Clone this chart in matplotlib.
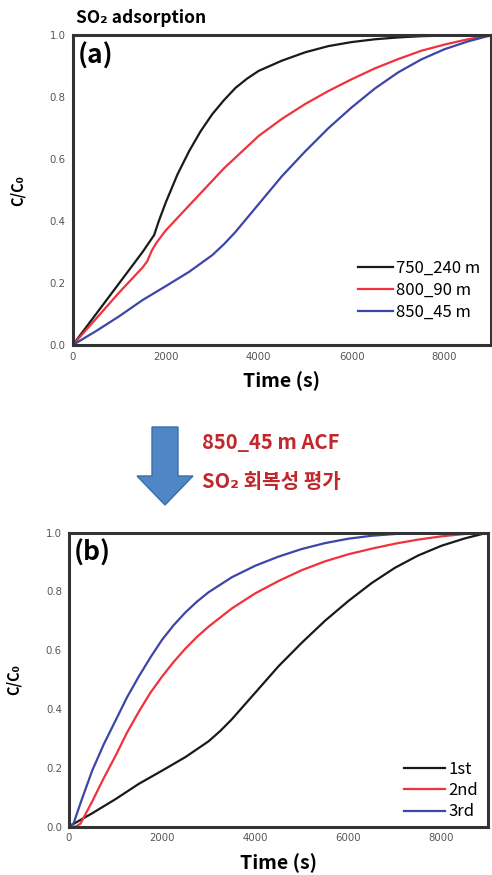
import matplotlib
matplotlib.use("Agg")
import matplotlib.pyplot as plt
from matplotlib.patches import Polygon

# panel (a): SO2 adsorption of three ACFs
time_a = [0, 500, 1000, 1500, 1750, 1850, 2000, 2250, 2500, 2750, 3000, 3250, 3500, 3750,
          4000, 4500, 5000, 5500, 6000, 6500, 7000, 7500, 8000, 9000]
acf_750 = [0, 0.10, 0.20, 0.30, 0.355, 0.40, 0.46, 0.55, 0.625, 0.69, 0.745, 0.79, 0.83,
           0.86, 0.885, 0.918, 0.945, 0.965, 0.978, 0.987, 0.993, 0.997, 0.999, 1.0]

time_red = [0, 500, 1000, 1500, 1600, 1700, 1800, 2000, 2250, 2500, 2750, 3000, 3250, 3500,
            3750, 4000, 4500, 5000, 5500, 6000, 6500, 7000, 7500, 8000, 8500, 9000]
acf_800 = [0, 0.085, 0.17, 0.25, 0.27, 0.305, 0.33, 0.37, 0.41, 0.45, 0.49, 0.53, 0.57,
           0.605, 0.64, 0.675, 0.73, 0.778, 0.82, 0.858, 0.893, 0.923, 0.95, 0.97, 0.987, 1.0]

time_blue = [0, 500, 1000, 1500, 2000, 2500, 3000, 3250, 3500, 3750, 4000, 4500, 5000,
             5500, 6000, 6500, 7000, 7500, 8000, 8500, 9000]
acf_850 = [0, 0.045, 0.093, 0.145, 0.19, 0.236, 0.29, 0.325, 0.365, 0.41, 0.455, 0.545,
           0.625, 0.70, 0.767, 0.828, 0.88, 0.922, 0.955, 0.98, 1.0]

# panel (b): regeneration cycles of 850_45 m
time_2nd = [0, 150, 250, 500, 750, 1000, 1250, 1500, 1750, 2000, 2250, 2500, 2750, 3000,
            3500, 4000, 4500, 5000, 5500, 6000, 6500, 7000, 7500, 8000, 8500, 9000]
cycle_2nd = [0, 0.0, 0.01, 0.085, 0.165, 0.24, 0.32, 0.39, 0.455, 0.51, 0.56, 0.605, 0.645,
             0.68, 0.742, 0.793, 0.835, 0.872, 0.902, 0.926, 0.945, 0.962, 0.976, 0.987,
             0.995, 1.0]

time_3rd = [0, 100, 250, 500, 750, 1000, 1250, 1500, 1750, 2000, 2250, 2500, 2750, 3000,
            3500, 4000, 4500, 5000, 5500, 6000, 6500, 7000, 7500, 8000, 9000]
cycle_3rd = [0, 0.01, 0.08, 0.19, 0.28, 0.36, 0.44, 0.51, 0.575, 0.635, 0.685, 0.728, 0.765,
             0.797, 0.848, 0.887, 0.918, 0.944, 0.964, 0.979, 0.989, 0.995, 0.998, 1.0, 1.0]

labels_a = ["750_240 m", "800_90 m", "850_45 m"]
labels_b = ["1st", "2nd", "3rd"]
colors = ["#1a1a1a", "#f0323c", "#3c46a8"]

FONT = ["Noto Sans CJK KR", "DejaVu Sans"]
plt.rcParams["font.family"] = FONT
plt.rcParams["lines.solid_joinstyle"] = "round"

fig = plt.figure(figsize=(4.92, 8.75), dpi=100)
ax_a = fig.add_axes([0.148, 0.6057, 0.850, 0.354])
ax_b = fig.add_axes([0.140, 0.0554, 0.852, 0.336])


def style_axes(ax):
    ax.set_xlim(0, 9000)
    ax.set_ylim(0, 1.0)
    ax.set_xticks([0, 2000, 4000, 6000, 8000])
    ax.set_yticks([0, 0.2, 0.4, 0.6, 0.8, 1.0])
    ax.set_yticklabels(["0.0", "0.2", "0.4", "0.6", "0.8", "1.0"])
    ax.tick_params(length=0, labelsize=7.3, labelcolor="#555555", pad=5)
    for lab in ax.get_xticklabels() + ax.get_yticklabels():
        lab.set_family("DejaVu Sans")
    for sp in ax.spines.values():
        sp.set_linewidth(2.2)
        sp.set_color("#333333")
    ax.set_xlabel("Time (s)", fontsize=14, fontweight="bold", labelpad=7)
    ax.set_ylabel("C/C₀", fontsize=10.5, fontweight="bold", labelpad=17)


ax_a.plot(time_a, acf_750, color=colors[0], lw=1.6, label=labels_a[0])
ax_a.plot(time_red, acf_800, color=colors[1], lw=1.6, label=labels_a[1])
ax_a.plot(time_blue, acf_850, color=colors[2], lw=1.6, label=labels_a[2])
style_axes(ax_a)
ax_a.text(0.012, 0.975, "(a)", transform=ax_a.transAxes, fontsize=19,
          fontweight="bold", va="top", ha="left")
ax_a.legend(loc="lower right", bbox_to_anchor=(0.99, 0.058), borderaxespad=0,
            frameon=False, fontsize=12, handlelength=2.1, handletextpad=0.2,
            labelspacing=0.3)
fig.text(0.155, 0.979, "SO₂ adsorption", fontsize=12.5, fontweight="bold",
         ha="left", va="center")

ax_b.plot(time_blue, acf_850, color=colors[0], lw=1.6, label=labels_b[0])
ax_b.plot(time_2nd, cycle_2nd, color=colors[1], lw=1.6, label=labels_b[1])
ax_b.plot(time_3rd, cycle_3rd, color=colors[2], lw=1.6, label=labels_b[2])
style_axes(ax_b)
ax_b.text(0.012, 0.975, "(b)", transform=ax_b.transAxes, fontsize=19,
          fontweight="bold", va="top", ha="left")
ax_b.legend(loc="lower right", bbox_to_anchor=(0.993, -0.002), borderaxespad=0,
            frameon=False, fontsize=12, handlelength=2.5, handletextpad=0.2,
            labelspacing=0.25)

# down arrow + caption between the panels (pixel space overlay)
overlay = fig.add_axes([0, 0, 1, 1], zorder=-1)
overlay.set_xlim(0, 492)
overlay.set_ylim(875, 0)
overlay.axis("off")
arrow = Polygon([(152, 427), (178, 427), (178, 476), (193, 476), (165, 505),
                 (137, 476), (152, 476)], closed=True,
                facecolor="#4f86c6", edgecolor="#3b6ea5", lw=1.0)
overlay.add_patch(arrow)
overlay.text(202, 443, "850_45 m ACF", fontsize=14.5, fontweight="bold",
             color="#c0282d", ha="left", va="center")
overlay.text(202, 481, "SO₂ 회복성 평가", fontsize=14.5, fontweight="bold",
             color="#c0282d", ha="left", va="center")

fig.savefig("out.png", dpi=100)
